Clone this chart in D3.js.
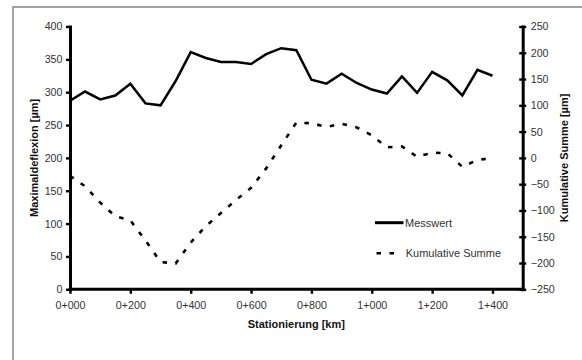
<!DOCTYPE html>
<html>
<head>
<meta charset="utf-8">
<script src="https://cdn.jsdelivr.net/npm/d3@7/dist/d3.min.js"></script>
<style>
  html, body { margin: 0; padding: 0; background: #fff; }
  svg { display: block; }
  text { font-family: "Liberation Sans", Arial, sans-serif; }
</style>
</head>
<body>
<script>
// ---- data ----
const stations = [0, 50, 100, 150, 200, 250, 300, 350, 400, 450, 500, 550, 600, 650, 700,
                  750, 800, 850, 900, 950, 1000, 1050, 1100, 1150, 1200, 1250, 1300, 1350, 1400];
const messwert = [287, 301, 289, 295, 313, 283, 280, 317, 361, 352, 346, 346, 343, 358, 367,
                  364, 319, 313, 328, 314, 304, 298, 324, 299, 331, 318, 295, 334, 325];
const kumSumme = [-34, -54, -85, -111, -119, -157, -198, -201, -161, -130, -105, -80, -57, -20, 24,
                  67, 66, 59, 65, 58, 43, 20, 22, 2, 10, 9, -17, -4, 0];
const xTicks = [0, 200, 400, 600, 800, 1000, 1200, 1400];
const xTickLabels = ["0+000", "0+200", "0+400", "0+600", "0+800", "1+000", "1+200", "1+400"];
const leftTicks = [0, 50, 100, 150, 200, 250, 300, 350, 400];
const rightTicks = [-250, -200, -150, -100, -50, 0, 50, 100, 150, 200, 250];
const seriesNames = ["Messwert", "Kumulative Summe"];
const titles = { x: "Stationierung [km]", yLeft: "Maximaldeflexion [µm]", yRight: "Kumulative Summe [µm]" };

// ---- layout ----
const W = 582, H = 360;
const L = 70, R = 522.7, T = 26.5, B = 289.3;

const svg = d3.select("body").append("svg").attr("width", W).attr("height", H);
svg.append("rect").attr("width", W).attr("height", H).attr("fill", "#fff");

// outer frame
svg.append("rect").attr("x", 13).attr("y", 7).attr("width", 620).attr("height", 420)
  .attr("fill", "none").attr("stroke", "#8c8c8c").attr("stroke-width", 1.6);

const x = d3.scaleLinear().domain([0, 1500]).range([L, R]);
const yL = d3.scaleLinear().domain([0, 400]).range([B, T]);
const yR = d3.scaleLinear().domain([-250, 250]).range([B, T]);

function styleAxis(g) {
  g.select(".domain").attr("stroke", "#000").attr("stroke-width", 3).attr("stroke-linecap", "square");
  g.selectAll(".tick line").attr("stroke", "#000").attr("stroke-width", 2.4);
  g.selectAll(".tick text").attr("fill", "#333").style("font-size", "10.7px")
    .style("font-family", "'Liberation Sans', Arial, sans-serif");
}

// left axis
const gL = svg.append("g").attr("transform", `translate(${L},0)`)
  .call(d3.axisLeft(yL).tickValues(leftTicks).tickSizeInner(4).tickSizeOuter(0).tickPadding(3.5));
styleAxis(gL);

// right axis
const gR = svg.append("g").attr("transform", `translate(${R},0)`)
  .call(d3.axisRight(yR).tickValues(rightTicks).tickSizeInner(3.5).tickSizeOuter(0).tickPadding(4.5));
styleAxis(gR);
gR.selectAll(".tick line").attr("x1", -3.5);

// bottom axis
const gB = svg.append("g").attr("transform", `translate(0,${B})`)
  .call(d3.axisBottom(x).tickValues(xTicks).tickFormat((d, i) => xTickLabels[i])
    .tickSizeInner(4.5).tickSizeOuter(0).tickPadding(7.5));
styleAxis(gB);
gB.select(".domain").attr("d", `M${L},0H${R}`);

// lines
const lineM = d3.line().x((d, i) => x(stations[i])).y(d => yL(d));
const lineK = d3.line().x((d, i) => x(stations[i])).y(d => yR(d));

svg.append("path").datum(messwert).attr("d", lineM)
  .attr("fill", "none").attr("stroke", "#000").attr("stroke-width", 2.5)
  .attr("stroke-linejoin", "miter");

svg.append("path").datum(kumSumme).attr("d", lineK)
  .attr("fill", "none").attr("stroke", "#000").attr("stroke-width", 2.6)
  .attr("stroke-dasharray", "4.5,8.5");

// legend
const leg = svg.append("g");
leg.append("line").attr("x1", 375).attr("x2", 403.5).attr("y1", 222.7).attr("y2", 222.7)
  .attr("stroke", "#000").attr("stroke-width", 3);
leg.append("text").attr("x", 405).attr("y", 227).text(seriesNames[0])
  .attr("fill", "#333").style("font-size", "11px");
leg.append("line").attr("x1", 376.5).attr("x2", 399).attr("y1", 253.3).attr("y2", 253.3)
  .attr("stroke", "#000").attr("stroke-width", 2.6).attr("stroke-dasharray", "4.5,8.5");
leg.append("text").attr("x", 405.7).attr("y", 256.6).text(seriesNames[1])
  .attr("fill", "#333").style("font-size", "11px");

// titles
svg.append("text").attr("x", (L + R) / 2).attr("y", 327.5).attr("text-anchor", "middle")
  .style("font-size", "11px").style("font-weight", "bold").attr("fill", "#111").text(titles.x);
svg.append("text").attr("transform", `translate(37.5,${(T + B) / 2}) rotate(-90)`)
  .attr("text-anchor", "middle").style("font-size", "11px").style("font-weight", "bold")
  .attr("fill", "#111").text(titles.yLeft);
svg.append("text").attr("transform", `translate(567.5,${(T + B) / 2}) rotate(-90)`)
  .attr("text-anchor", "middle").style("font-size", "11px").style("font-weight", "bold")
  .attr("fill", "#111").text(titles.yRight);
</script>
</body>
</html>
